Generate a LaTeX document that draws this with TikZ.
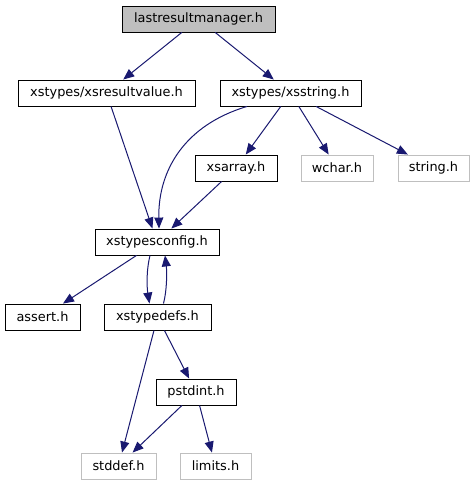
\documentclass[tikz,border=0pt]{standalone}
\usepackage{fontspec}
\setmainfont{DejaVu Sans}
\usetikzlibrary{arrows.meta}
\definecolor{edgeblue}{HTML}{191970}
\definecolor{lightgr}{HTML}{BFBFBF}
\tikzset{
  box/.style={draw=black, line width=0.9pt, fill=white, minimum height=26pt, inner sep=0pt, font=\fontsize{12.9}{15}\selectfont},
  sysbox/.style={box, draw=lightgr},
  mainbox/.style={box, fill=lightgr},
  edge/.style={draw=edgeblue, line width=1pt, -{Triangle[length=11pt,width=9pt]}},
}
\begin{document}
\begin{tikzpicture}[x=1pt,y=-1pt]
\useasboundingbox (0,0) rectangle (474,485);
\node[mainbox, minimum width=153pt] (lrm) at (198.5,19) {lastresultmanager.h};
\node[box, minimum width=177pt] (xsrv) at (106.5,93) {xstypes/xsresultvalue.h};
\node[box, minimum width=141pt] (xss) at (290.5,93) {xstypes/xsstring.h};
\node[box, minimum width=82pt] (xsarr) at (236,168) {xsarray.h};
\node[sysbox, minimum width=72pt] (wchar) at (337,168) {wchar.h};
\node[sysbox, minimum width=71pt] (string) at (433.5,168) {string.h};
\node[box, minimum width=124pt] (config) at (157,242) {xstypesconfig.h};
\node[box, minimum width=75pt] (assert) at (42.5,317) {assert.h};
\node[box, minimum width=107pt] (typedefs) at (157.5,317) {xstypedefs.h};
\node[box, minimum width=80pt] (pstdint) at (196,392) {pstdint.h};
\node[sysbox, minimum width=75pt] (stddef) at (118.5,466) {stddef.h};
\node[sysbox, minimum width=71pt] (limits) at (215.5,466) {limits.h};

\draw[edge] (lrm) -- (xsrv);
\draw[edge] (lrm) -- (xss);
\draw[edge] (xsrv) -- (config);
\draw[edge] ([xshift=-43.5pt]xss.south) .. controls (185,125) and (158,170) .. ([xshift=2pt]config.north);
\draw[edge] (xss) -- (xsarr);
\draw[edge] (xss) -- (wchar);
\draw[edge] (xss) -- (string);
\draw[edge] (xsarr) -- (config);
\draw[edge] (config) -- (assert);
\draw[edge] ([xshift=-7pt]config.south) .. controls (146,272) and (147,288) .. ([xshift=-8pt]typedefs.north);
\draw[edge] ([xshift=6pt]typedefs.north) .. controls (167,290) and (167,272) .. ([xshift=8pt]config.south);
\draw[edge] (typedefs) -- (stddef);
\draw[edge] (typedefs) -- (pstdint);
\draw[edge] (pstdint) -- (stddef);
\draw[edge] (pstdint) -- (limits);
\end{tikzpicture}
\end{document}
